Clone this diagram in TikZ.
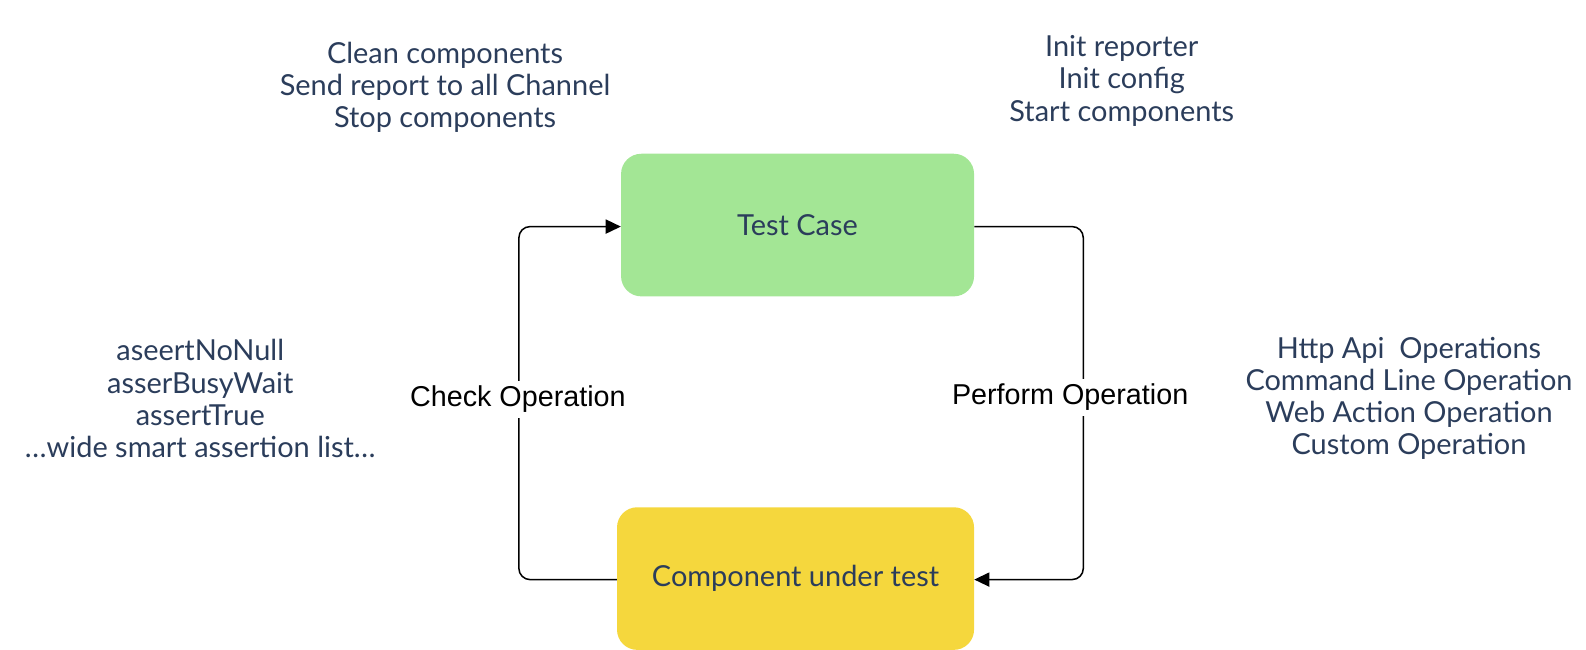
\documentclass[tikz,border=0pt]{standalone}
\usepackage{fontspec}
\setmainfont{Lato}
\newfontfamily\lblfont{Liberation Sans}
\usetikzlibrary{arrows.meta}
\definecolor{txt}{HTML}{2B3D5B}
\definecolor{boxgreen}{HTML}{A3E695}
\definecolor{boxyellow}{HTML}{F5D73D}
\tikzset{
  box/.style={rounded corners=20pt, inner sep=0pt, minimum width=349pt, minimum height=141pt, text=txt, font=\fontsize{28.6}{32}\selectfont},
  info/.style={align=center, text=txt, font=\fontsize{28.6}{31.7}\selectfont, inner sep=0pt},
  conn/.style={line width=1.5pt, rounded corners=11pt, -{Triangle[length=15pt,width=14pt]}},
  lbl/.style={fill=white, text=black, font=\lblfont\fontsize{28.4}{32}\selectfont, inner xsep=2pt, inner ysep=5pt}
}
\begin{document}
\begin{tikzpicture}[x=1pt,y=-1pt]
\useasboundingbox (0,0) rectangle (1568,642.6);
\node[box, fill=boxgreen] (tc) at (788.5,222.5) {Test Case};
\node[box, fill=boxyellow, minimum width=353pt] (cut) at (786.5,572) {Component under test};
\coordinate (tl) at (513,224);
\coordinate (bl) at (513,573);
\coordinate (tr) at (1071,224);
\coordinate (br) at (1071,573);
\draw[conn] (cut.west |- bl) -- (bl) -- (tl) -- (tc.west |- tl);
\draw[conn] (tc.east |- tr) -- (tr) -- (br) -- (cut.east |- br);
\node[lbl] (chk) at (512,395) {Check Operation};
\node[lbl] (prf) at (1058,393) {Perform Operation};
\node[info] (clean) at (440,86) {Clean components\\Send report to all Channel\\Stop components};
\node[info] (init) at (1109,80) {Init reporter\\Init config\\Start components};
\node[info] (asrt) at (198,394) {aseertNoNull\\asserBusyWait\\assertTrue\\…wide smart assertion list…};
\node[info] (ops) at (1393,394) {Http Api\ \ Operations\\Command Line Operation\\Web Action Operation\\Custom Operation};
\end{tikzpicture}
\end{document}
